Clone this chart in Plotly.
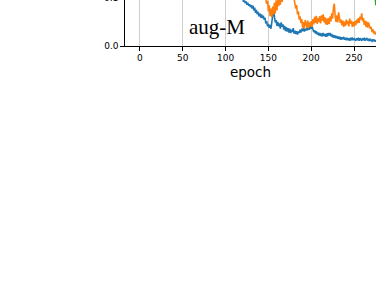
import plotly.graph_objects as go

# ---- data ----
blue_epochs_early = [0, 20, 40, 60, 80, 100]
blue_vals_early = [0.60, 0.40, 0.30, 0.22, 0.17, 0.13]
blue_start = 112
blue_vals = [
    0.112, 0.104, 0.109, 0.101, 0.106, 0.098, 0.103, 0.097, 0.099, 0.092,
    0.095, 0.089, 0.093, 0.086, 0.090, 0.084, 0.087, 0.081, 0.085, 0.078,
    0.084, 0.074, 0.080, 0.069, 0.075, 0.066, 0.071, 0.062, 0.068, 0.059,
    0.066, 0.058, 0.063, 0.055, 0.059, 0.047, 0.052, 0.041, 0.046, 0.038,
    0.044, 0.036, 0.047, 0.058, 0.076, 0.062, 0.049, 0.054, 0.042, 0.050,
    0.041, 0.047, 0.036, 0.049, 0.040, 0.045, 0.034, 0.042, 0.031, 0.039,
    0.030, 0.037, 0.028, 0.036, 0.027, 0.034, 0.029, 0.037, 0.026, 0.032,
    0.025, 0.031, 0.024, 0.030, 0.027, 0.034, 0.028, 0.036, 0.031, 0.037,
    0.030, 0.036, 0.032, 0.038, 0.033, 0.040, 0.034, 0.042, 0.036, 0.041,
    0.036, 0.029, 0.033, 0.026, 0.031, 0.024, 0.028, 0.022, 0.027, 0.021,
    0.026, 0.020, 0.027, 0.021, 0.025, 0.019, 0.026, 0.020, 0.027, 0.022,
    0.027, 0.020, 0.025, 0.018, 0.023, 0.017, 0.022, 0.016, 0.021, 0.015,
    0.020, 0.014, 0.019, 0.013, 0.018, 0.014, 0.019, 0.013, 0.017, 0.012,
    0.017, 0.012, 0.016, 0.011, 0.017, 0.012, 0.018, 0.012, 0.016, 0.013,
    0.011, 0.016, 0.012, 0.017, 0.011, 0.016, 0.013, 0.011, 0.016, 0.012,
    0.017, 0.011, 0.015, 0.016, 0.011, 0.015, 0.010, 0.015, 0.012, 0.010,
    0.014, 0.010, 0.013, 0.009, 0.012,
]

orange_epochs_early = [0, 20, 40, 60, 80, 100, 120]
orange_vals_early = [0.70, 0.50, 0.38, 0.30, 0.24, 0.19, 0.16]
orange_start = 140
orange_vals = [
    0.135, 0.128, 0.131, 0.124, 0.118, 0.112, 0.104, 0.097, 0.088, 0.094,
    0.072, 0.085, 0.062, 0.078, 0.060, 0.082, 0.066, 0.090, 0.068, 0.095,
    0.074, 0.098, 0.083, 0.104, 0.086, 0.112, 0.092, 0.118, 0.106, 0.122,
    0.115, 0.128, 0.110, 0.121, 0.108, 0.117, 0.112, 0.124, 0.105, 0.113,
    0.098, 0.090, 0.078, 0.085, 0.066, 0.072, 0.055, 0.062, 0.048, 0.056,
    0.038, 0.050, 0.036, 0.054, 0.044, 0.039, 0.053, 0.037, 0.049, 0.041,
    0.052, 0.040, 0.056, 0.045, 0.061, 0.048, 0.063, 0.046, 0.058, 0.050,
    0.062, 0.047, 0.064, 0.053, 0.066, 0.049, 0.060, 0.045, 0.057, 0.044,
    0.058, 0.046, 0.062, 0.051, 0.068, 0.057, 0.080, 0.088, 0.062, 0.050,
    0.064, 0.049, 0.070, 0.060, 0.048, 0.055, 0.043, 0.053, 0.040, 0.051,
    0.042, 0.055, 0.045, 0.052, 0.041, 0.057, 0.046, 0.053, 0.040, 0.050,
    0.041, 0.052, 0.043, 0.055, 0.047, 0.058, 0.048, 0.061, 0.055, 0.068,
    0.052, 0.058, 0.044, 0.053, 0.040, 0.051, 0.038, 0.049, 0.042, 0.036,
    0.040, 0.029, 0.035, 0.026, 0.031, 0.024, 0.028,
]

green_epochs = [274, 275.5]
green_vals = [0.13, 0.085]

x_ticks = [0, 50, 100, 150, 200, 250]
y_ticks = [0.0, 0.1]
y_tick_labels = ["0.0", "0.1"]
panel_label = "aug-M"
x_title = "epoch"

# ---- figure ----
blue_x = blue_epochs_early + list(range(blue_start, blue_start + len(blue_vals)))
blue_y = blue_vals_early + blue_vals
orange_x = orange_epochs_early + list(range(orange_start, orange_start + len(orange_vals)))
orange_y = orange_vals_early + orange_vals

W, H = 376, 290
left, bottom_px, top_px = 125, 46, 0
px_per_unit = 480.0
y_top = (bottom_px - top_px) / px_per_unit
x_min, x_max = -17.5, 275.7

fig = go.Figure()
fig.add_trace(go.Scatter(x=blue_x, y=blue_y, mode="lines",
                         line=dict(color="#1f77b4", width=1.6), showlegend=False))
fig.add_trace(go.Scatter(x=orange_x, y=orange_y, mode="lines",
                         line=dict(color="#ff7f0e", width=1.6), showlegend=False))
fig.add_trace(go.Scatter(x=green_epochs, y=green_vals, mode="lines",
                         line=dict(color="#2ca02c", width=1.6), showlegend=False))

fig.update_layout(
    width=W, height=H,
    margin=dict(l=left, r=0, t=top_px, b=H - bottom_px, pad=0),
    paper_bgcolor="white", plot_bgcolor="white",
    font=dict(family="DejaVu Sans", size=9, color="black"),
    xaxis=dict(range=[x_min, x_max], tickvals=x_ticks, ticks="outside",
               ticklen=3.5, tickwidth=1, tickcolor="black",
               showline=True, linecolor="black", linewidth=1.2,
               showgrid=True, gridcolor="#cfcfcf", gridwidth=1,
               zeroline=False, tickfont=dict(size=9),
               title=dict(text=x_title, font=dict(size=13.5), standoff=5)),
    yaxis=dict(range=[0, y_top], tickvals=[0.0], ticktext=["0.0"],
               ticks="outside", ticklen=3.5, tickwidth=1, tickcolor="black",
               showline=True, linecolor="black", linewidth=1.2,
               showgrid=False, zeroline=False, tickfont=dict(size=9)),
)

fig.add_annotation(x=90, y=0.040, xref="x", yref="y", text=panel_label,
                   showarrow=False, font=dict(family="Liberation Serif", size=21, color="black"),
                   xanchor="center", yanchor="middle")
fig.add_annotation(x=0, y=y_ticks[1] / y_top, xref="paper", yref="paper",
                   text=y_tick_labels[1], showarrow=False, xanchor="right", yanchor="middle",
                   xshift=-5, font=dict(size=9))

fig.write_html("out.html", config={"displayModeBar": False},
               post_script="document.body.style.margin='0';document.body.style.overflow='hidden';")
